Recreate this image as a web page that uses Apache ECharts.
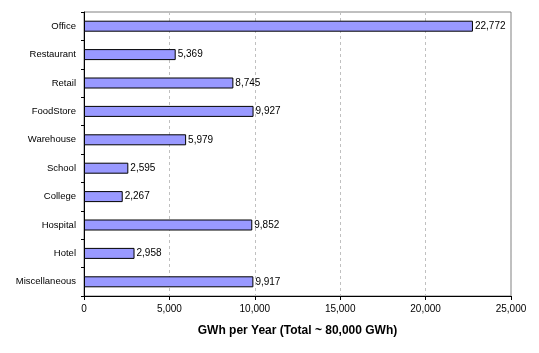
<!DOCTYPE html>
<html>
<head>
<meta charset="utf-8">
<script src="https://cdn.jsdelivr.net/npm/echarts@6/dist/echarts.min.js"></script>
<style>html,body{margin:0;padding:0;background:#fff;}#c{width:539px;height:353px;}</style>
</head>
<body>
<div id="c"></div>
<script>
var categories = ['Office','Restaurant','Retail','FoodStore','Warehouse','School','College','Hospital','Hotel','Miscellaneous'];
var values = [22772, 5369, 8745, 9927, 5979, 2595, 2267, 9852, 2958, 9917];
var axisName = 'GWh per Year (Total ~ 80,000 GWh)';

var chart = echarts.init(document.getElementById('c'), null, {renderer:'canvas'});
chart.setOption({
  animation: false,
  backgroundColor: '#fff',
  textStyle: {fontFamily: 'Liberation Sans, Arial, sans-serif'},
  grid: {left: 84, right: 28, top: 12, bottom: 57, show: true, borderColor: '#808080', borderWidth: 1, backgroundColor: 'transparent'},
  xAxis: {
    type: 'value', min: 0, max: 25000, interval: 5000,
    name: axisName, nameLocation: 'middle', nameGap: 29,
    nameTextStyle: {fontSize: 12, fontWeight: 'bold', color: '#000', fontFamily: 'Liberation Sans, Arial, sans-serif'},
    axisLine: {show: true, lineStyle: {color: '#000', width: 1}},
    axisTick: {show: true, length: 4, inside: false, lineStyle: {color: '#000'}},
    axisLabel: {fontSize: 10, color: '#000', margin: 8, formatter: function(v){return v.toLocaleString('en-US');}},
    splitLine: {show: true, lineStyle: {color: '#c0c0c0', type: [3,3], width: 1}}
  },
  yAxis: {
    type: 'category', data: categories, inverse: true,
    axisLine: {show: true, lineStyle: {color: '#000', width: 1}},
    axisTick: {show: true, length: 3, alignWithLabel: false, lineStyle: {color: '#000'}},
    axisLabel: {fontSize: 9.5, color: '#000', margin: 8},
    splitLine: {show: false}
  },
  series: [{
    type: 'bar', data: values, barWidth: 11,
    itemStyle: {color: '#9999FF', borderColor: '#000', borderWidth: 1},
    label: {show: true, position: 'right', distance: 2, fontSize: 10, color: '#000',
      formatter: function(p){return p.value.toLocaleString('en-US');}}
  }]
});
</script>
</body>
</html>
